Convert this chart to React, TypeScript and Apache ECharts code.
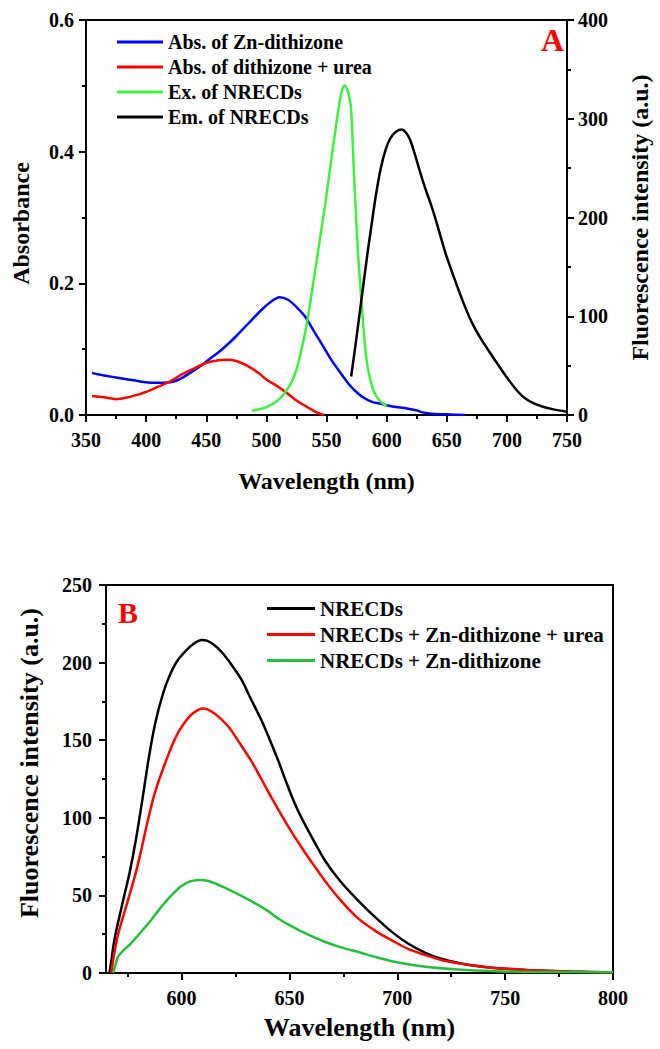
import React, { useEffect, useRef } from "react";
import * as echarts from "echarts";

const FONT = '"Liberation Serif", "Times New Roman", serif';

// ---- Panel A data ----
const blueWl = [355,365,375,385,395,405,415,425,435,445,452,460,467,475,485,495,503,511,518,525,532,540,549,555,562,569,576,582,588,595,605,617,625,630,638,650,665];
const blueAbs = [0.064,0.060,0.057,0.054,0.051,0.049,0.049,0.052,0.062,0.074,0.084,0.095,0.106,0.120,0.139,0.158,0.171,0.179,0.175,0.164,0.150,0.126,0.099,0.081,0.063,0.046,0.033,0.025,0.020,0.017,0.013,0.010,0.007,0.004,0.002,0.001,0.000];

const redWl = [355,365,375,385,395,400,410,420,430,440,450,460,467,475,485,494,500,508,516,525,535,543,548];
const redAbs = [0.029,0.027,0.024,0.027,0.032,0.035,0.043,0.051,0.062,0.071,0.079,0.083,0.084,0.082,0.074,0.063,0.054,0.045,0.035,0.022,0.011,0.003,0];

const exWl = [488,495,500,508,515,522,527,533,537,541,545,549,553,557,560,562.5,565,567,569,570.5,573,576,579,581.7,584,587,590,595,600];
const exVal = [4.4,6,8,13.5,22,36,55,88,118,150,182,214,250,285,310,327,334,330,322,309,240,168,116,74,50,33,22,13.5,9];

const emWl = [570.5,574,578,581,584,588,591,595,599,603,608,612.6,616,619.4,623,627.6,632,638,642,646,650,657.6,665.7,672,679,686,692.6,700,708.9,715,722.5,730,738.7,749.6];
const emVal = [39,70,107,135,163,197,222,249,268,280,287,289,286,279,266,247,230,209,193,176,160,134,108,91,76,63,51,38,24,17,11.8,8.3,5.7,3.4];

// ---- Panel B data ----
const nrWl = [566.6,567.5,568.5,569.7,571.5,573.3,576,579,582,585,588,591,594,598,603,606,609.3,612,615,618.5,623,627.8,632,637,641,644.8,648,651.8,655.6,661,666.7,674,682,689,697.5,705,713,720,728.4,736,743.8,759.3,780,800];
const nrVal = [0,8,18,27,38,49,65,87,113,140,162,178,190,201,209,212.5,214.6,214,211.5,207,199,189,177,163,150,137,125,111.5,100,86,72,58.5,46.5,37,26.5,19,13,9.3,6.4,4.6,3.4,2,1,0.3];

const ureaWl = [567.5,568.5,570.6,575.2,578.5,581.3,584,587,590,594,597,600,605,610,615,621.6,627,632.4,637,641.7,645,649,655.6,660,666.7,674,682,690,697.5,705,713,720,728.4,736,743.8,760,780,800];
const ureaVal = [0,10,25,47,63,79,96,113,126,141,151,158.5,167,170.5,167.5,159,148,136.5,125,113,105,95.5,81,72,59,46.5,35,27,21,15.5,11.6,8.5,6.2,4.6,3.4,2,1,0.3];

const znWl = [568.4,569.5,570.6,573,576.5,580,585,590,595,600,604,608,612,616,620,628,634,640,645,650,655.6,660,666.7,674,682,690,697.5,705,713,728,745,770,800];
const znVal = [0,6,10.5,14.5,19,24.5,32.5,41.5,49.5,56,59,60,59.5,57.5,55,49.5,45,40,35,30.8,26.8,23.9,20,16.5,13.5,10.3,7.6,5.6,4,2.2,1.2,0.7,0.5];

const xTicksB = [600, 650, 700, 750, 800];
const xMinorTicksB = [575, 625, 675, 725, 775];

const legendA = ["Abs. of Zn-dithizone", "Abs. of dithizone + urea", "Ex. of NRECDs", "Em. of NRECDs"];
const legendB = ["NRECDs", "NRECDs + Zn-dithizone + urea", "NRECDs + Zn-dithizone"];

const zip = (xs: number[], ys: number[]) => xs.map((x, i) => [x, ys[i]]);

const lineStyleAxis = { color: "#000", width: 2 };

function labelStyle(size: number, margin: number, extra: any = {}) {
  return { fontFamily: FONT, fontWeight: "bold", fontSize: size, color: "#000", margin, ...extra };
}
function nameStyle(size: number, padding: number[] = [0, 0, 0, 0]) {
  return { fontFamily: FONT, fontWeight: "bold", fontSize: size, color: "#000", padding };
}

export default function App() {
  const ref = useRef<HTMLDivElement>(null);
  useEffect(() => {
    if (!ref.current) return;
    const chart = echarts.init(ref.current, undefined, { renderer: "svg" });
    const tick = { show: true, inside: false, length: 7, lineStyle: { color: "#000", width: 2 } };
    const minor = { show: true, splitNumber: 2, length: 4, lineStyle: { color: "#000", width: 2 } };
    const option: any = {
      animation: false,
      backgroundColor: "#fff",
      grid: [
        { left: 86, top: 20, width: 491, height: 395, show: true, borderColor: "#000", borderWidth: 2, backgroundColor: "transparent" },
        { left: 106, top: 585, width: 507, height: 388, show: true, borderColor: "#000", borderWidth: 2, backgroundColor: "transparent" },
      ],
      xAxis: [
        {
          gridIndex: 0, type: "value", min: 350, max: 750, interval: 50,
          axisLine: { show: true, lineStyle: lineStyleAxis, onZero: false },
          axisTick: tick, minorTick: minor, splitLine: { show: false },
          axisLabel: labelStyle(20, 15),
          name: "Wavelength (nm)", nameLocation: "middle", nameGap: 54, nameTextStyle: nameStyle(24),
        },
        {
          gridIndex: 1, type: "value", min: 565, max: 800, position: "bottom",
          axisLine: { show: true, lineStyle: lineStyleAxis, onZero: false },
          axisTick: { ...tick, customValues: xTicksB },
          splitLine: { show: false },
          axisLabel: { ...labelStyle(20, 15), customValues: xTicksB },
          name: "Wavelength (nm)", nameLocation: "middle", nameGap: 41, nameTextStyle: nameStyle(26),
        },
        {
          gridIndex: 1, type: "value", min: 565, max: 800, position: "bottom",
          axisLine: { show: false, onZero: false },
          axisTick: { show: true, length: 4, lineStyle: { color: "#000", width: 2 }, customValues: xMinorTicksB },
          splitLine: { show: false },
          axisLabel: { show: false },
        },
      ],
      yAxis: [
        {
          gridIndex: 0, type: "value", min: 0, max: 0.6, interval: 0.2, position: "left",
          axisLine: { show: true, lineStyle: lineStyleAxis, onZero: false },
          axisTick: tick, minorTick: minor, splitLine: { show: false },
          axisLabel: { ...labelStyle(20, 12), formatter: (v: number) => v.toFixed(1) },
          name: "Absorbance", nameLocation: "middle", nameGap: 53, nameRotate: 90, nameTextStyle: nameStyle(24, [0, 12, 0, 0]),
        },
        {
          gridIndex: 0, type: "value", min: 0, max: 400, interval: 100, position: "right",
          axisLine: { show: true, lineStyle: lineStyleAxis, onZero: false },
          axisTick: tick, minorTick: minor, splitLine: { show: false },
          axisLabel: labelStyle(20, 11),
          name: "Fluorescence intensity (a.u.)", nameLocation: "middle", nameGap: 61, nameRotate: 90, nameTextStyle: nameStyle(24),
        },
        {
          gridIndex: 1, type: "value", min: 0, max: 250, interval: 50, position: "left",
          axisLine: { show: true, lineStyle: lineStyleAxis, onZero: false },
          axisTick: tick, minorTick: minor, splitLine: { show: false },
          axisLabel: labelStyle(20, 14),
          name: "Fluorescence intensity (a.u.)", nameLocation: "middle", nameGap: 64, nameRotate: 90, nameTextStyle: nameStyle(26, [0, 0, 0, 32]),
        },
      ],
      legend: [
        {
          data: legendA, orient: "vertical", left: 112, top: 27, itemWidth: 46, itemHeight: 3, icon: "rect",
          itemGap: 5, selectedMode: false, textStyle: { fontFamily: FONT, fontWeight: "bold", fontSize: 20, color: "#000" },
        },
        {
          data: legendB, orient: "vertical", left: 262, top: 593, itemWidth: 48, itemHeight: 3, icon: "rect",
          itemGap: 5, selectedMode: false, textStyle: { fontFamily: FONT, fontWeight: "bold", fontSize: 21, color: "#000" },
        },
      ],
      graphic: [
        { type: "text", left: 541, top: 24, style: { text: "A", font: `bold 32px ${FONT}`, fill: "#ff0000" } },
        { type: "text", left: 118, top: 597, style: { text: "B", font: `bold 30px ${FONT}`, fill: "#ff0000" } },
      ],
      series: [
        { name: legendA[0], type: "line", xAxisIndex: 0, yAxisIndex: 0, data: zip(blueWl, blueAbs), color: "#0000ff" },
        { name: legendA[1], type: "line", xAxisIndex: 0, yAxisIndex: 0, data: zip(redWl, redAbs), color: "#ff0000" },
        { name: legendA[2], type: "line", xAxisIndex: 0, yAxisIndex: 1, data: zip(exWl, exVal), color: "#40f040" },
        { name: legendA[3], type: "line", xAxisIndex: 0, yAxisIndex: 1, data: zip(emWl, emVal), color: "#000000" },
        { name: legendB[0], type: "line", xAxisIndex: 1, yAxisIndex: 2, data: zip(nrWl, nrVal), color: "#000000" },
        { name: legendB[1], type: "line", xAxisIndex: 1, yAxisIndex: 2, data: zip(ureaWl, ureaVal), color: "#ff0000" },
        { name: legendB[2], type: "line", xAxisIndex: 1, yAxisIndex: 2, data: zip(znWl, znVal), color: "#22c03a" },
      ].map((s) => ({ ...s, showSymbol: false, smooth: 0.3, lineStyle: { width: 2.5 }, z: 3 })),
    };
    chart.setOption(option);
    return () => chart.dispose();
  }, []);
  return <div ref={ref} style={{ position: "absolute", left: 0, top: 0, width: 660, height: 1049 }} />;
}
